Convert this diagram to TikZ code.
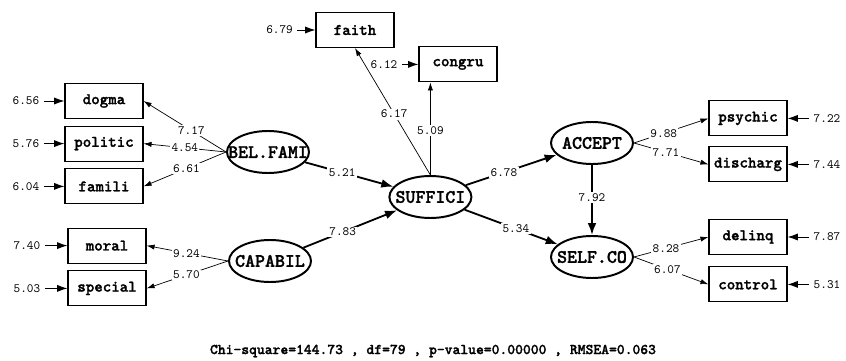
\documentclass[tikz,border=0pt]{standalone}
\usepackage{fontspec}
\newfontfamily\lisreg{lmmono10-regular.otf}
\newfontfamily\lisbold[FakeBold=1.5]{lmmonolt10-bold.otf}
\usetikzlibrary{arrows.meta,shapes.geometric}

\begin{document}
\begin{tikzpicture}[
	box/.style={draw,line width=0.8pt,minimum width=1.95cm,minimum height=0.875cm,inner sep=0pt,
		font=\lisbold\fontsize{11.5}{13}\selectfont},
	latent/.style={draw,ellipse,line width=1.4pt,minimum width=2.05cm,minimum height=1.05cm,inner sep=0pt,
		label={[font=\lisbold\fontsize{13.5}{15}\selectfont]center:#1}},
	coef/.style={fill=white,inner sep=1pt,font=\lisreg\fontsize{9}{10}\selectfont},
	err/.style={inner sep=3pt,font=\lisreg\fontsize{9}{10}\selectfont},
	loading/.style={-{Latex[length=2mm,width=1.3mm]},line width=0.5pt},
	struct/.style={-{Latex[length=3mm,width=2.2mm]},line width=1.3pt},
	errarrow/.style={-{Latex[length=2.6mm,width=1.8mm]},line width=0.7pt}
]
	\useasboundingbox (0,0) rectangle (21.15,9);

	\node[box] (dogma) at (2.6,6.475) {dogma};
	\node[box] (politic) at (2.6,5.41) {politic};
	\node[box] (famili) at (2.6,4.34) {famili};
	\node[box] (moral) at (2.675,2.86) {moral};
	\node[box] (special) at (2.675,1.79) {special};
	\node[box] (faith) at (8.875,8.25) {faith};
	\node[box] (congru) at (11.45,7.39) {congru};
	\node[box] (psychic) at (18.7,6.04) {psychic};
	\node[box] (discharg) at (18.7,4.89) {discharg};
	\node[box] (delinq) at (18.7,3.075) {delinq};
	\node[box] (control) at (18.7,1.89) {control};

	\node[latent=BEL.FAMI] (belfami) at (6.7,5.2) {};
	\node[latent=CAPABIL] (capabil) at (6.75,2.475) {};
	\node[latent=SUFFICI] (suffici) at (10.76,4.075) {};
	\node[latent=ACCEPT] (accept) at (14.8,5.425) {};
	\node[latent=SELF.CO] (selfco) at (14.8,2.575) {};

	% error terms
	\node[err] (edogma) at (0.65,6.475) {6.56};
	\node[err] (epolitic) at (0.65,5.41) {5.76};
	\node[err] (efamili) at (0.65,4.34) {6.04};
	\node[err] (emoral) at (0.675,2.86) {7.40};
	\node[err] (especial) at (0.675,1.79) {5.03};
	\node[err] (efaith) at (6.99,8.25) {6.79};
	\node[err] (econgru) at (9.6,7.39) {6.12};
	\node[err] (epsychic) at (20.675,6.04) {7.22};
	\node[err] (edischarg) at (20.675,4.89) {7.44};
	\node[err] (edelinq) at (20.675,3.075) {7.87};
	\node[err] (econtrol) at (20.675,1.89) {5.31};
	\foreach \v in {dogma,politic,famili,moral,special,faith,congru,psychic,discharg,delinq,control}
		\draw[errarrow] (e\v) -- (\v);

	% loadings
	\draw[loading] (belfami.west) -- node[coef,pos=0.42] {7.17} (dogma.east);
	\draw[loading] (belfami.west) -- node[coef,pos=0.5] {4.54} (politic.east);
	\draw[loading] (belfami.west) -- node[coef,pos=0.48] {6.61} (famili.east);
	\draw[loading] (capabil.west) -- node[coef,pos=0.51] {9.24} (moral.east);
	\draw[loading] (capabil.west) -- node[coef,pos=0.51] {5.70} (special.east);
	\draw[loading] (suffici.north) -- node[coef,pos=0.48] {6.17} (faith.south);
	\draw[loading] (suffici.north) -- node[coef,pos=0.48] {5.09} (suffici.north |- congru.south);
	\draw[loading] (accept.east) -- node[coef,pos=0.4] {9.88} (psychic.west);
	\draw[loading] (accept.east) -- node[coef,pos=0.43] {7.71} (discharg.west);
	\draw[loading] (selfco.east) -- node[coef,pos=0.43] {8.28} (delinq.west);
	\draw[loading] (selfco.east) -- node[coef,pos=0.45] {6.07} (control.west);

	% structural paths
	\draw[struct] (belfami) -- node[coef,pos=0.42] {5.21} (suffici);
	\draw[struct] (capabil) -- node[coef,pos=0.42] {7.83} (suffici);
	\draw[struct] (suffici) -- node[coef,pos=0.42] {6.78} (accept);
	\draw[struct] (suffici) -- node[coef,pos=0.55] {5.34} (selfco);
	\draw[struct] (accept) -- node[coef,pos=0.46] {7.92} (selfco);

	\node[font=\lisbold\fontsize{10.6}{12}\selectfont] (fit) at (10.825,0.225)
		{Chi-square=144.73 , df=79 , p-value=0.00000 , RMSEA=0.063};
\end{tikzpicture}
\end{document}
